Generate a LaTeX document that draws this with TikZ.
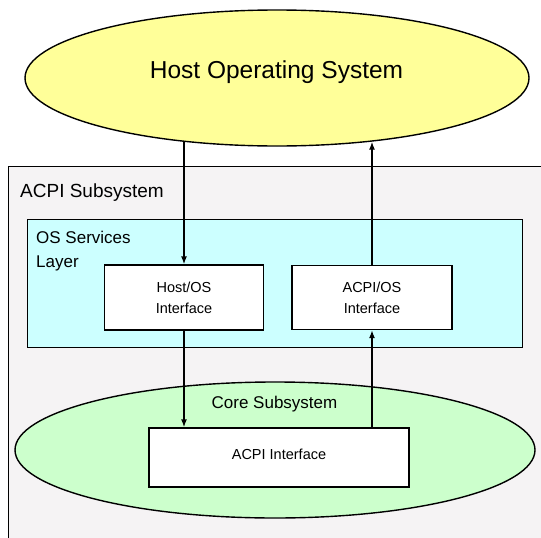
\documentclass[tikz,border=0pt]{standalone}
\usepackage{fontspec}
\setmainfont{Liberation Sans}
\usetikzlibrary{shapes.geometric,arrows.meta}
\definecolor{hostyellow}{HTML}{FFFF99}
\definecolor{subgray}{HTML}{F5F3F4}
\definecolor{layercyan}{HTML}{CCFFFF}
\definecolor{coregreen}{HTML}{CCFFCC}
\begin{document}
\begin{tikzpicture}[x=1pt,y=-1pt,
  oval/.style={draw, ellipse, line width=1.4pt, inner sep=0pt},
  panel/.style={draw, rectangle, line width=1.4pt, inner sep=0pt, anchor=north west},
  iface/.style={draw, rectangle, fill=white, line width=1.4pt, align=center, font=\fontsize{14.5}{21}\selectfont},
  flow/.style={draw, line width=1.4pt, -{Latex[length=8pt,width=6pt]}}]
\useasboundingbox (0,0) rectangle (541,538);
\clip (0,0) rectangle (541,538);
\node[oval, fill=hostyellow, minimum width=504pt, minimum height=136pt] (hos) at (277,78) {};
\node[anchor=base, inner sep=0pt, font=\fontsize{24.5}{29}\selectfont] (hostxt) at (276.5,78.5) {Host Operating System};
\node[panel, fill=subgray, minimum width=600pt, minimum height=420pt] (sub) at (8,166) {};
\node[anchor=base west, inner sep=0pt, font=\fontsize{19}{23}\selectfont] (subtxt) at (20,197) {ACPI Subsystem};
\node[panel, fill=layercyan, minimum width=495pt, minimum height=128pt] (osl) at (27,219) {};
\node[anchor=base west, inner sep=0pt, font=\fontsize{17}{24}\selectfont] (osltxt) at (36,243.5) {OS Services};
\node[anchor=base west, inner sep=0pt, font=\fontsize{17}{24}\selectfont] (osltxtb) at (36,267.5) {Layer};
\node[iface, minimum width=159pt, minimum height=65pt] (hosi) at (184,297.5) {Host/OS\\Interface};
\node[iface, minimum width=160pt, minimum height=64pt] (acpios) at (372,297.5) {ACPI/OS\\Interface};
\node[oval, fill=coregreen, minimum width=520pt, minimum height=136pt] (core) at (275,450) {};
\node[anchor=base, inner sep=0pt, font=\fontsize{17}{21}\selectfont] (coretxt) at (274.5,408) {Core Subsystem};
\node[iface, minimum width=260pt, minimum height=59pt, text depth=7pt] (acpii) at (279,457.5) {ACPI Interface};
\path[flow] (hos.214 -| hosi) -- (hosi.north);
\path[flow] (acpios.north) -- (hos.326 -| acpios);
\path[flow] (hosi.south) -- (acpii.north -| hosi);
\path[flow] (acpii.north -| acpios) -- (acpios.south);
\end{tikzpicture}
\end{document}
